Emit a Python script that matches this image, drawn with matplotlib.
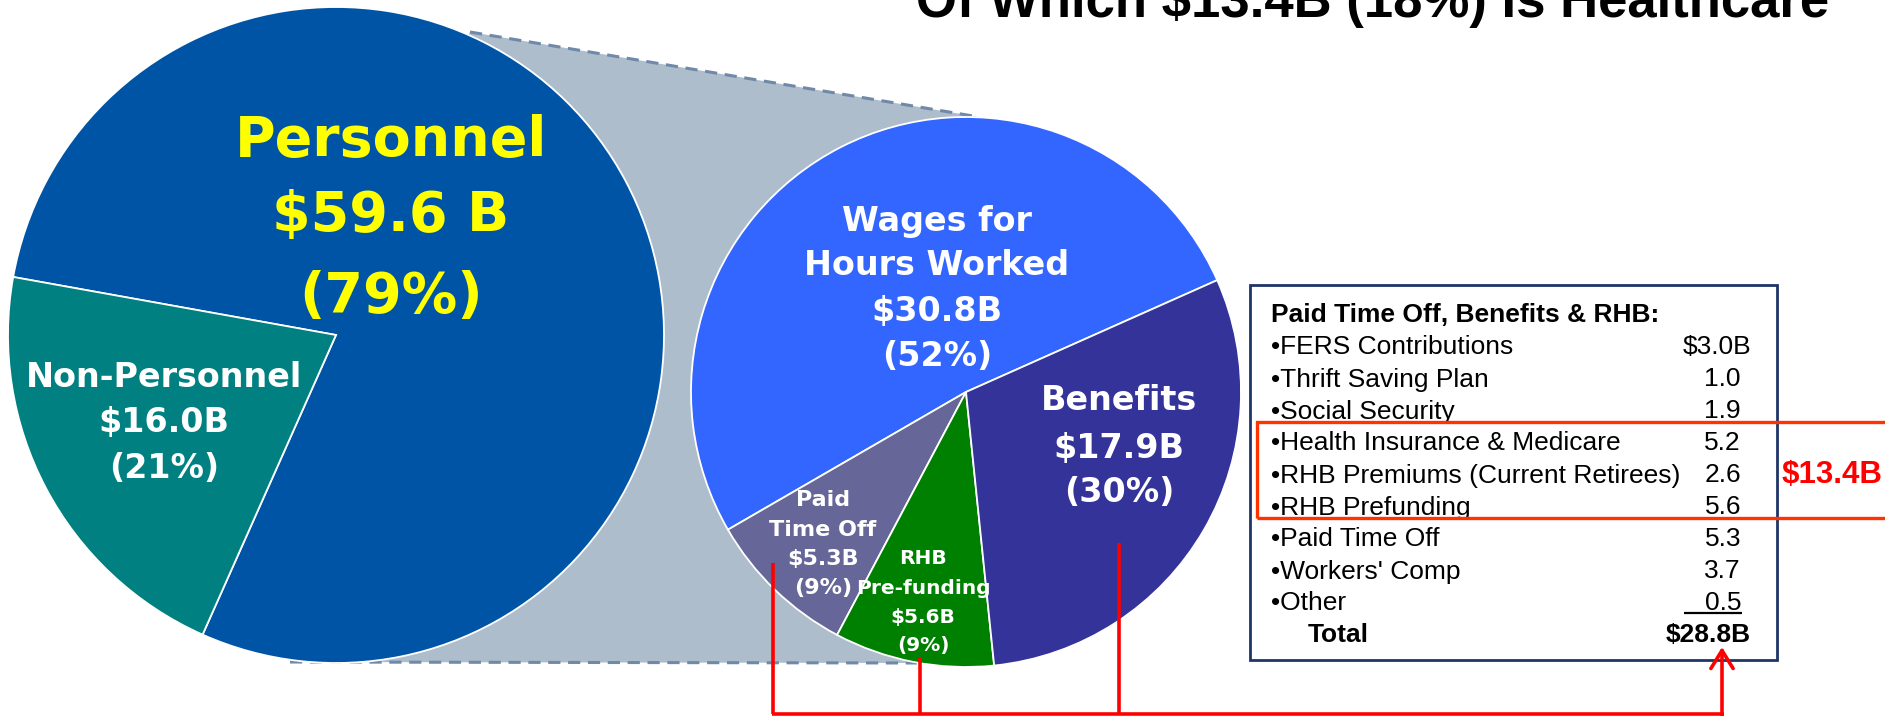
import matplotlib
matplotlib.use("Agg")
import matplotlib.pyplot as plt
from matplotlib.patches import Polygon, Rectangle

# ---------------- data ----------------
big_categories = ["Personnel", "Non-Personnel"]
big_values = [59.6, 16.0]
big_value_labels = ["$59.6 B", "$16.0B"]
big_pct_labels = ["(79%)", "(21%)"]

small_categories = ["Wages for\nHours Worked", "Paid\nTime Off", "RHB\nPre-funding", "Benefits"]
small_values = [30.8, 5.3, 5.6, 17.9]
small_value_labels = ["$30.8B", "$5.3B", "$5.6B", "$17.9B"]
small_pct_labels = ["(52%)", "(9%)", "(9%)", "(30%)"]

table_title = "Paid Time Off, Benefits & RHB:"
table_items = ["FERS Contributions", "Thrift Saving Plan", "Social Security",
               "Health Insurance & Medicare", "RHB Premiums (Current Retirees)",
               "RHB Prefunding", "Paid Time Off", "Workers' Comp", "Other"]
table_values = ["$3.0B", "1.0", "1.9", "5.2", "2.6", "5.6", "5.3", "3.7", "0.5"]
total_label = "Total"
total_value = "$28.8B"
healthcare_label = "$13.4B"
title_text = "Of Which $13.4B (18%) Is Healthcare"

# ---------------- style ----------------
big_colors = ["#0054A6", "#008080"]
small_colors = ["#3366FF", "#666699", "#008000", "#333399"]
gray_fill = "#AEBDCC"
dash_color = "#7089A8"
red = "#FF0000"
hl_red = "#FF3300"
navy = "#1F3468"

W, H = 1885, 716
fig = plt.figure(figsize=(W / 100, H / 100), dpi=100)
ax = fig.add_axes([0, 0, 1, 1])


def Y(y):
    return H - y


big_center = (336, Y(335))
big_r = 328
small_center = (966, Y(392))
small_r = 275

# connector background
poly = Polygon([(470, Y(32)), (979, Y(117)), (966, Y(392)), (917, Y(663)),
                (290, Y(662)), (336, Y(335))], closed=True,
               facecolor=gray_fill, edgecolor="none", zorder=0.5)
ax.add_patch(poly)
ax.plot([470, 979], [Y(32), Y(117)], color=dash_color, lw=2.2,
        ls=(0, (4, 2.5)), zorder=0.6)
ax.plot([290, 917], [Y(662), Y(663)], color=dash_color, lw=2.2,
        ls=(0, (4, 2.5)), zorder=0.6)

ax.pie(big_values, colors=big_colors, startangle=246, counterclock=True,
       radius=big_r, center=big_center, frame=False,
       wedgeprops=dict(edgecolor="white", linewidth=1.3))
ax.pie(small_values, colors=small_colors, startangle=24, counterclock=True,
       radius=small_r, center=small_center, frame=False,
       wedgeprops=dict(edgecolor="white", linewidth=1.3))

label_font = "DejaVu Sans"

big_label_pos = [(391, [135, 210, 291]), (164, [374, 419, 465])]
big_label_size = [40, 24]
big_label_color = ["#FFFF00", "white"]
for i, cat in enumerate(big_categories):
    lines = cat.split("\n") + [big_value_labels[i], big_pct_labels[i]]
    x, ys = big_label_pos[i]
    for ln, yy in zip(lines, ys):
        ax.text(x, Y(yy), ln, ha="center", va="center_baseline",
                fontsize=big_label_size[i], fontweight="bold",
                color=big_label_color[i], family=label_font, zorder=5)

small_label_pos = [(937, [218, 262, 308, 353]), (823, [498, 528, 557, 586]),
                   (923, [556, 587, 615, 644]), (1119, [397, 445, 489])]
small_label_size = [24, 16, 14.5, 24]
for i, cat in enumerate(small_categories):
    lines = cat.split("\n") + [small_value_labels[i], small_pct_labels[i]]
    x, ys = small_label_pos[i]
    for ln, yy in zip(lines, ys):
        ax.text(x, Y(yy), ln, ha="center", va="center_baseline",
                fontsize=small_label_size[i], fontweight="bold",
                color="white", family=label_font, zorder=5)

# ---------------- table box ----------------
tfont = "Liberation Sans"
tsize = 19
ax.add_patch(Rectangle((1250, Y(660)), 1777 - 1250, 660 - 285,
                       facecolor="white", edgecolor=navy, lw=2, zorder=3))
ax.text(1271, Y(313), table_title, ha="left", va="center_baseline",
        fontsize=tsize, fontweight="bold", family=tfont, zorder=4)
row0, dy = 345, 32
for i, (item, val) in enumerate(zip(table_items, table_values)):
    yy = row0 + i * dy
    ax.text(1271, Y(yy), "\u2022" + item, ha="left", va="center_baseline",
            fontsize=tsize, family=tfont, zorder=4)
    xr = 1751 if val.endswith("B") else 1741
    ax.text(xr, Y(yy), val, ha="right", va="center_baseline",
            fontsize=tsize, family=tfont, zorder=4)
ytot = row0 + len(table_items) * dy
ax.plot([1684, 1742], [Y(613), Y(613)], color="black", lw=1.6, zorder=4,
        solid_capstyle="butt")
ax.text(1308, Y(ytot), total_label, ha="left", va="center_baseline",
        fontsize=tsize, fontweight="bold", family=tfont, zorder=4)
ax.text(1751, Y(ytot), total_value, ha="right", va="center_baseline",
        fontsize=tsize, fontweight="bold", family=tfont, zorder=4)

# highlight box
ax.add_patch(Rectangle((1257, Y(518)), 700, 518 - 422, facecolor="none",
                       edgecolor=hl_red, lw=2.4, zorder=4.5))
ax.text(1782, Y(472), healthcare_label, ha="left", va="center_baseline",
        fontsize=22.5, fontweight="bold", color=red, family=tfont, zorder=5)

# red connector lines
lw_r = 2.6
for x0, y0 in [(773, 563), (920, 657), (1119, 543)]:
    ax.plot([x0, x0], [Y(y0), Y(714)], color=red, lw=lw_r, zorder=6,
            solid_capstyle="butt")
ax.plot([773 - 1.5, 1722 + 1.5], [Y(714), Y(714)], color=red, lw=lw_r, zorder=6,
        solid_capstyle="butt")
ax.annotate("", xy=(1722, Y(647)), xytext=(1722, Y(715.5)),
            arrowprops=dict(arrowstyle="->,head_length=0.65,head_width=0.4",
                            color=red, lw=lw_r, mutation_scale=20,
                            shrinkA=0, shrinkB=0), zorder=6)

# title (clipped at top, as in the original slide)
ax.text(1373, Y(17), title_text, ha="center", va="baseline", fontsize=38,
        fontweight="bold", family=tfont, zorder=5)

ax.set_xlim(0, W)
ax.set_ylim(0, H)
ax.set_axis_off()
fig.savefig("out.png", dpi=100, facecolor="white")
